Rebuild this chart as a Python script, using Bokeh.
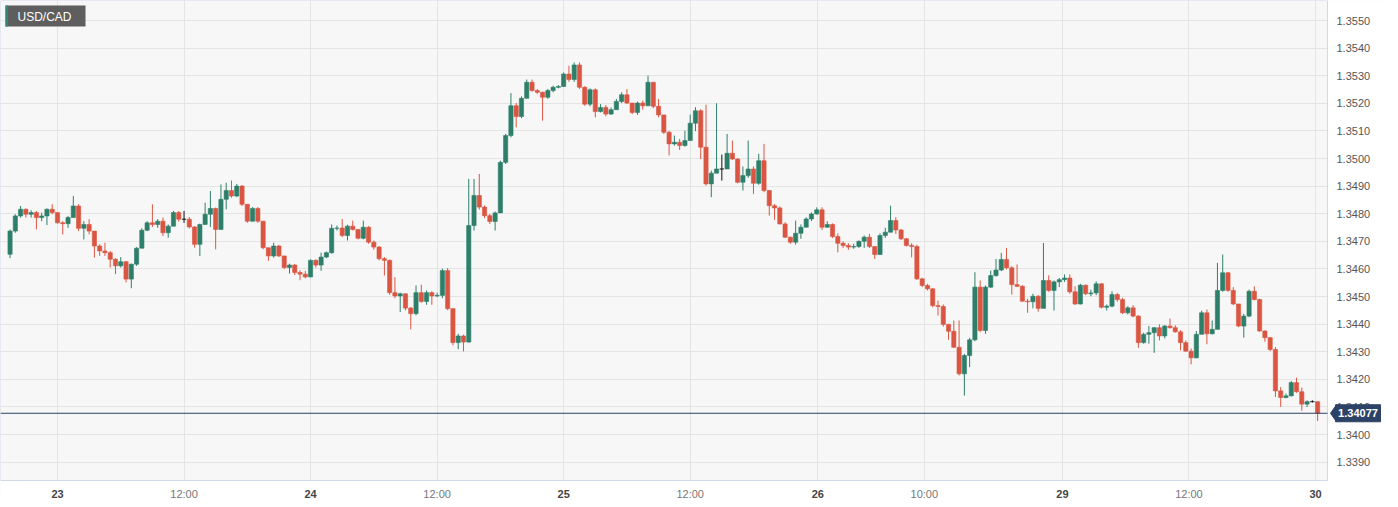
from bokeh.plotting import figure
from bokeh.models import ColumnDataSource, FixedTicker, Grid, Range1d
from bokeh.core.properties import value
from bokeh.embed import file_html
from bokeh.resources import INLINE

symbol = "USD/CAD"
last_price = 1.34077
first_open = 1.34653
first_bar_hour = -4.5      # hours relative to the "23" day start
bar_hours = 0.5            # 30-minute candles

closes = [
    1.34737, 1.34792, 1.34816, 1.34798, 1.34804, 1.34786, 1.34792, 1.34816, 1.34804, 1.34767,
    1.34764, 1.34786, 1.34828, 1.34747, 1.34761, 1.34737, 1.34683, 1.34665, 1.34659, 1.34635,
    1.34611, 1.34626, 1.34563, 1.34617, 1.34675, 1.34740, 1.34767, 1.34761, 1.34773, 1.34731,
    1.34755, 1.34804, 1.34780, 1.34780, 1.34752, 1.34689, 1.34761, 1.34798, 1.34819, 1.34743,
    1.34852, 1.34884, 1.34864, 1.34900, 1.34834, 1.34773, 1.34819, 1.34773, 1.34677, 1.34647,
    1.34683, 1.34647, 1.34605, 1.34614, 1.34587, 1.34581, 1.34571, 1.34631, 1.34614, 1.34643,
    1.34659, 1.34747, 1.34748, 1.34721, 1.34755, 1.34743, 1.34711, 1.34751, 1.34697, 1.34679,
    1.34637, 1.34631, 1.34514, 1.34502, 1.34510, 1.34458, 1.34438, 1.34514, 1.34482, 1.34514,
    1.34502, 1.34504, 1.34594, 1.34456, 1.34333, 1.34357, 1.34335, 1.34757, 1.34866, 1.34824,
    1.34793, 1.34772, 1.34803, 1.34986, 1.35083, 1.35191, 1.35152, 1.35218, 1.35276, 1.35246,
    1.35240, 1.35222, 1.35246, 1.35258, 1.35261, 1.35306, 1.35286, 1.35339, 1.35258, 1.35197,
    1.35249, 1.35170, 1.35185, 1.35161, 1.35177, 1.35207, 1.35231, 1.35201, 1.35167, 1.35201,
    1.35191, 1.35276, 1.35189, 1.35158, 1.35095, 1.35053, 1.35059, 1.35047, 1.35065, 1.35128,
    1.35173, 1.35041, 1.34908, 1.34947, 1.34962, 1.34962, 1.35019, 1.34998, 1.34914, 1.34938,
    1.34962, 1.34910, 1.34992, 1.34884, 1.34829, 1.34821, 1.34763, 1.34715, 1.34697, 1.34729,
    1.34751, 1.34781, 1.34799, 1.34814, 1.34751, 1.34761, 1.34717, 1.34693, 1.34685, 1.34679,
    1.34681, 1.34700, 1.34715, 1.34681, 1.34652, 1.34721, 1.34733, 1.34775, 1.34741, 1.34709,
    1.34685, 1.34681, 1.34564, 1.34540, 1.34528, 1.34467, 1.34464, 1.34399, 1.34374, 1.34316,
    1.34220, 1.34286, 1.34343, 1.34534, 1.34377, 1.34534, 1.34576, 1.34596, 1.34634, 1.34604,
    1.34543, 1.34537, 1.34483, 1.34481, 1.34501, 1.34457, 1.34558, 1.34522, 1.34553, 1.34561,
    1.34567, 1.34517, 1.34473, 1.34541, 1.34510, 1.34513, 1.34546, 1.34461, 1.34465, 1.34507,
    1.34489, 1.34441, 1.34459, 1.34429, 1.34333, 1.34363, 1.34369, 1.34387, 1.34357, 1.34393,
    1.34387, 1.34372, 1.34333, 1.34302, 1.34278, 1.34363, 1.34441, 1.34365, 1.34381, 1.34522,
    1.34586, 1.34522, 1.34473, 1.34393, 1.34429, 1.34519, 1.34489, 1.34375, 1.34351, 1.34308,
    1.34158, 1.34134, 1.34140, 1.34188, 1.34155, 1.34110, 1.34119, 1.34119, 1.34077,
]

highs = [
    1.34743, 1.34798, 1.34828, 1.34819, 1.34812, 1.34810, 1.34804, 1.34819, 1.34834, 1.34804,
    1.34773, 1.34792, 1.34864, 1.34834, 1.34773, 1.34780, 1.34737, 1.34689, 1.34695, 1.34665,
    1.34639, 1.34643, 1.34629, 1.34619, 1.34679, 1.34747, 1.34773, 1.34834, 1.34780, 1.34786,
    1.34761, 1.34810, 1.34810, 1.34810, 1.34788, 1.34755, 1.34764, 1.34840, 1.34882, 1.34822,
    1.34906, 1.34912, 1.34920, 1.34908, 1.34904, 1.34834, 1.34824, 1.34824, 1.34773, 1.34677,
    1.34695, 1.34687, 1.34647, 1.34619, 1.34618, 1.34595, 1.34593, 1.34635, 1.34635, 1.34659,
    1.34663, 1.34761, 1.34757, 1.34781, 1.34760, 1.34775, 1.34743, 1.34775, 1.34755, 1.34703,
    1.34683, 1.34643, 1.34634, 1.34570, 1.34514, 1.34510, 1.34462, 1.34540, 1.34543, 1.34522,
    1.34519, 1.34514, 1.34601, 1.34603, 1.34456, 1.34365, 1.34362, 1.34926, 1.34926, 1.34944,
    1.34830, 1.34799, 1.34808, 1.34992, 1.35089, 1.35237, 1.35201, 1.35225, 1.35286, 1.35286,
    1.35252, 1.35242, 1.35252, 1.35264, 1.35266, 1.35312, 1.35336, 1.35348, 1.35348, 1.35262,
    1.35254, 1.35254, 1.35197, 1.35194, 1.35185, 1.35216, 1.35240, 1.35252, 1.35201, 1.35206,
    1.35210, 1.35300, 1.35278, 1.35216, 1.35158, 1.35100, 1.35083, 1.35071, 1.35101, 1.35159,
    1.35186, 1.35179, 1.35195, 1.34956, 1.35200, 1.35014, 1.35089, 1.35065, 1.35001, 1.34971,
    1.35065, 1.34971, 1.35017, 1.35053, 1.34886, 1.34835, 1.34826, 1.34769, 1.34717, 1.34775,
    1.34761, 1.34787, 1.34805, 1.34823, 1.34823, 1.34773, 1.34765, 1.34729, 1.34700, 1.34693,
    1.34691, 1.34703, 1.34721, 1.34727, 1.34681, 1.34729, 1.34749, 1.34829, 1.34787, 1.34745,
    1.34712, 1.34693, 1.34688, 1.34568, 1.34546, 1.34530, 1.34485, 1.34471, 1.34401, 1.34413,
    1.34413, 1.34292, 1.34350, 1.34588, 1.34558, 1.34540, 1.34594, 1.34636, 1.34658, 1.34676,
    1.34610, 1.34616, 1.34541, 1.34492, 1.34510, 1.34505, 1.34694, 1.34577, 1.34558, 1.34567,
    1.34580, 1.34580, 1.34537, 1.34546, 1.34543, 1.34525, 1.34555, 1.34549, 1.34471, 1.34519,
    1.34513, 1.34495, 1.34465, 1.34469, 1.34432, 1.34369, 1.34393, 1.34389, 1.34399, 1.34396,
    1.34420, 1.34396, 1.34378, 1.34341, 1.34312, 1.34375, 1.34449, 1.34453, 1.34413, 1.34622,
    1.34652, 1.34589, 1.34534, 1.34473, 1.34437, 1.34525, 1.34537, 1.34492, 1.34377, 1.34353,
    1.34317, 1.34172, 1.34148, 1.34194, 1.34206, 1.34170, 1.34124, 1.34124, 1.34119,
]

lows = [
    1.34639, 1.34731, 1.34786, 1.34786, 1.34786, 1.34743, 1.34773, 1.34759, 1.34798, 1.34764,
    1.34725, 1.34749, 1.34786, 1.34737, 1.34707, 1.34725, 1.34641, 1.34647, 1.34647, 1.34605,
    1.34581, 1.34605, 1.34551, 1.34530, 1.34611, 1.34675, 1.34737, 1.34752, 1.34749, 1.34719,
    1.34713, 1.34755, 1.34771, 1.34767, 1.34747, 1.34677, 1.34647, 1.34761, 1.34752, 1.34671,
    1.34743, 1.34816, 1.34858, 1.34860, 1.34828, 1.34767, 1.34771, 1.34767, 1.34671, 1.34629,
    1.34641, 1.34643, 1.34599, 1.34583, 1.34578, 1.34559, 1.34566, 1.34569, 1.34605, 1.34593,
    1.34639, 1.34655, 1.34739, 1.34715, 1.34703, 1.34739, 1.34707, 1.34707, 1.34691, 1.34670,
    1.34631, 1.34576, 1.34506, 1.34494, 1.34444, 1.34450, 1.34381, 1.34432, 1.34477, 1.34470,
    1.34470, 1.34498, 1.34494, 1.34450, 1.34323, 1.34309, 1.34301, 1.34333, 1.34739, 1.34815,
    1.34784, 1.34763, 1.34739, 1.34803, 1.34980, 1.35077, 1.35113, 1.35146, 1.35218, 1.35242,
    1.35234, 1.35137, 1.35216, 1.35240, 1.35254, 1.35261, 1.35278, 1.35278, 1.35252, 1.35191,
    1.35189, 1.35149, 1.35167, 1.35153, 1.35158, 1.35177, 1.35201, 1.35197, 1.35161, 1.35158,
    1.35177, 1.35201, 1.35182, 1.35149, 1.35089, 1.35011, 1.35047, 1.35031, 1.35043, 1.35065,
    1.35099, 1.34998, 1.34902, 1.34860, 1.34947, 1.34920, 1.34966, 1.34995, 1.34910, 1.34884,
    1.34930, 1.34872, 1.34905, 1.34878, 1.34793, 1.34778, 1.34761, 1.34712, 1.34691, 1.34688,
    1.34709, 1.34751, 1.34773, 1.34797, 1.34741, 1.34749, 1.34712, 1.34660, 1.34676, 1.34669,
    1.34673, 1.34676, 1.34676, 1.34676, 1.34636, 1.34652, 1.34712, 1.34733, 1.34727, 1.34705,
    1.34681, 1.34642, 1.34560, 1.34534, 1.34522, 1.34461, 1.34431, 1.34391, 1.34343, 1.34314,
    1.34214, 1.34141, 1.34244, 1.34338, 1.34371, 1.34365, 1.34531, 1.34572, 1.34592, 1.34598,
    1.34507, 1.34534, 1.34481, 1.34441, 1.34457, 1.34445, 1.34517, 1.34517, 1.34449, 1.34534,
    1.34553, 1.34510, 1.34469, 1.34471, 1.34505, 1.34501, 1.34505, 1.34457, 1.34449, 1.34461,
    1.34481, 1.34437, 1.34435, 1.34425, 1.34314, 1.34329, 1.34329, 1.34296, 1.34341, 1.34348,
    1.34384, 1.34369, 1.34305, 1.34300, 1.34254, 1.34276, 1.34365, 1.34327, 1.34363, 1.34384,
    1.34517, 1.34517, 1.34469, 1.34389, 1.34351, 1.34425, 1.34486, 1.34372, 1.34336, 1.34302,
    1.34136, 1.34100, 1.34131, 1.34138, 1.34151, 1.34086, 1.34100, 1.34116, 1.34049,
]

tick_hours = [0, 12, 24, 36, 48, 60, 72.1, 82.2, 95.3, 107.3, 119.3]
tick_labels = ["23", "12:00", "24", "12:00", "25", "12:00", "26", "10:00", "29", "12:00", "30"]
price_ticks = [1.3390, 1.3400, 1.3410, 1.3420, 1.3430, 1.3440, 1.3450, 1.3460, 1.3470,
               1.3480, 1.3490, 1.3500, 1.3510, 1.3520, 1.3530, 1.3540, 1.3550]

# ------------------------------------------------------------------ layout
W, H = 1390, 501                 # canvas (the whole canvas is the plot frame)
PLOT_R_PX, PLOT_B_PX = 1327, 480 # right / bottom edge of the chart area
HOUR_AT_LEFT, PX_PER_HOUR = -5.405, 10.545
PRICE_AT_TOP, PX_PER_PRICE = 1.355725, 27600.0


def hx(px):
    return HOUR_AT_LEFT + px / PX_PER_HOUR


def py(px):
    return PRICE_AT_TOP - px / PX_PER_PRICE


UP, DOWN, DOJI = "#2e7f6a", "#da5642", "#111111"
NAVY = "#2c4266"
GRID = "#e4e4e4"
FONT = value("Liberation Sans")

opens = [first_open] + closes[:-1]
times = [first_bar_hour + bar_hours * i for i in range(len(closes))]
colors = [UP if c > o else (DOWN if c < o else DOJI) for o, c in zip(opens, closes)]
src = ColumnDataSource(dict(
    t=times, h=highs, l=lows,
    top=[max(o, c) for o, c in zip(opens, closes)],
    bottom=[min(o, c) for o, c in zip(opens, closes)],
    color=colors,
))

p = figure(width=W, height=H, x_range=Range1d(hx(0), hx(W)), y_range=Range1d(py(H), py(0)),
           x_axis_type=None, y_axis_type=None, output_backend="svg", toolbar_location=None,
           min_border=0, min_border_left=0, min_border_right=0, min_border_top=0,
           min_border_bottom=0)
p.outline_line_color = None
p.background_fill_color = "#f7f7f7"
p.border_fill_color = "white"

# grid lines
p.add_layout(Grid(dimension=0, ticker=FixedTicker(ticks=tick_hours), grid_line_color=GRID))
p.add_layout(Grid(dimension=1, ticker=FixedTicker(ticks=price_ticks), grid_line_color=GRID))

x_l, x_r = hx(0), hx(PLOT_R_PX)
y_t, y_b = py(0), py(PLOT_B_PX)

# white margins (axis areas) covering the grid outside the chart area
p.quad(left=[x_r], right=[hx(W + 20)], bottom=[py(H + 20)], top=[py(-20)],
       fill_color="white", line_color=None)
p.quad(left=[hx(-20)], right=[hx(W + 20)], bottom=[py(H + 20)], top=[y_b],
       fill_color="white", line_color=None)
# chart area border
p.quad(left=[x_l], right=[x_r], bottom=[y_b], top=[y_t], fill_alpha=0,
       line_color="#d3d8e8", line_width=1)

# candles
p.segment("t", "h", "t", "l", source=src, line_color="color", line_width=1)
p.vbar(x="t", width=0.4, top="top", bottom="bottom", source=src,
       fill_color="color", line_color="color", line_width=0.6)

# price axis labels (right)
p.text(x=[x_r] * len(price_ticks), y=price_ticks, text=["%.4f" % v for v in price_ticks],
       x_offset=9, text_align="left", text_baseline="middle", text_font=FONT,
       text_font_size="11px", text_color="#555555")

# time axis labels (bottom): days bold, hours regular
day_x = [h for h, lab in zip(tick_hours, tick_labels) if ":" not in lab]
day_t = [lab for lab in tick_labels if ":" not in lab]
hour_x = [h for h, lab in zip(tick_hours, tick_labels) if ":" in lab]
hour_t = [lab for lab in tick_labels if ":" in lab]
p.text(x=day_x, y=[y_b] * len(day_x), text=day_t, y_offset=13, text_align="center",
       text_baseline="middle", text_font=FONT, text_font_size="11px",
       text_font_style="bold", text_color="#444444")
p.text(x=hour_x, y=[y_b] * len(hour_x), text=hour_t, y_offset=13, text_align="center",
       text_baseline="middle", text_font=FONT, text_font_size="11px", text_color="#777777")

# current price line and tag
p.segment(x0=[x_l], y0=[last_price], x1=[x_r], y1=[last_price], line_color=NAVY, line_width=1)
half = 8.5 / PX_PER_PRICE
p.patch(x=[hx(1330), hx(1336), hx(1336)], y=[last_price, last_price + half, last_price - half],
        fill_color=NAVY, line_color=NAVY)
p.quad(left=[hx(1335)], right=[hx(1380)], bottom=[last_price - half], top=[last_price + half],
       fill_color=NAVY, line_color=NAVY)
p.text(x=[hx(1357.5)], y=[last_price], text=["%.5f" % last_price], text_align="center",
       text_baseline="middle", text_font=FONT, text_font_size="11px",
       text_font_style="bold", text_color="white")

# symbol tag (top-left)
p.quad(left=[hx(5)], right=[hx(85)], bottom=[py(26)], top=[py(5)],
       fill_color="#5e5e5e", line_color=None)
p.quad(left=[hx(5)], right=[hx(7.5)], bottom=[py(26)], top=[py(5)],
       fill_color="#2d8a6e", line_color=None)
p.text(x=[hx(17)], y=[py(16)], text=[symbol], text_align="left", text_baseline="middle",
       text_font=FONT, text_font_size="12px", text_color="white")

open("out.html", "w").write(file_html(p, INLINE))
